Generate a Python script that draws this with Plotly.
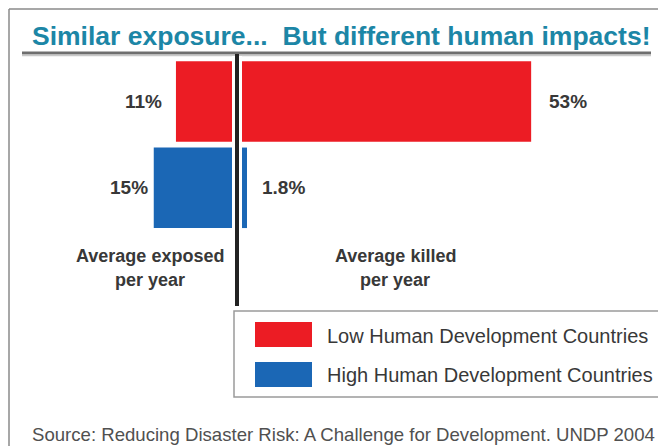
import plotly.graph_objects as go

# ---------------- data ----------------
groups = ["Low Human Development Countries", "High Human Development Countries"]
group_keys = ["Low", "High"]
exposed_pct = [11, 15]        # average exposed per year (%)
killed_pct = [53, 1.8]        # average killed per year (%)
exposed_labels = ["11%", "15%"]
killed_labels = ["53%", "1.8%"]
side_labels = [["Average exposed", "per year"], ["Average killed", "per year"]]
title_text = "Similar exposure...  But different human impacts!"
source_text = "Source: Reducing Disaster Risk: A Challenge for Development. UNDP 2004"

# ---------------- styles ----------------
colors = ["#ec1c24", "#1b67b5"]
W, H = 658, 446
ZERO_PX = 237.0
PX_PER_PCT = 5.55
ROW0_PX, ROW_STEP_PX = 101.6, 86.2
BAR_FRAC = 0.934
exp_gap = [12, 4]
kil_gap = [16, 13]
ARIAL = "Liberation Sans, Arial, sans-serif"
TXT = "#383838"


def px(x):
    return x / W


def py(y):
    return 1 - y / H


fig = go.Figure()
for i, key in enumerate(group_keys):
    fig.add_trace(go.Bar(
        y=[key, key],
        x=[exposed_pct[i], killed_pct[i]],
        base=[-exposed_pct[i], 0],
        orientation="h",
        width=BAR_FRAC,
        marker=dict(color=colors[i], line=dict(width=0)),
        name=groups[i],
        showlegend=False,
        hoverinfo="skip",
    ))

annotations = []
for i, key in enumerate(group_keys):
    annotations.append(dict(x=-exposed_pct[i], y=key, xref="x", yref="y",
                            text=exposed_labels[i], showarrow=False,
                            xanchor="right", yanchor="middle", xshift=-exp_gap[i],
                            font=dict(family=ARIAL, size=19, color=TXT, weight="bold")))
    annotations.append(dict(x=killed_pct[i], y=key, xref="x", yref="y",
                            text=killed_labels[i], showarrow=False,
                            xanchor="left", yanchor="middle", xshift=kil_gap[i],
                            font=dict(family=ARIAL, size=19, color=TXT, weight="bold")))

# side labels under the bars
side_x = [150, 395]
line_y = [256, 280]
for j, lines in enumerate(side_labels):
    for k, t in enumerate(lines):
        annotations.append(dict(x=px(side_x[j]), y=py(line_y[k]), xref="paper", yref="paper",
                                text=t, showarrow=False, xanchor="center", yanchor="middle",
                                font=dict(family=ARIAL, size=18, color=TXT, weight="bold")))

# title
annotations.append(dict(x=px(30), y=py(36), xref="paper", yref="paper", text=title_text,
                        showarrow=False, xanchor="left", yanchor="middle",
                        font=dict(family=ARIAL, size=26.5, color="#1c86a6", weight="bold")))
# source
annotations.append(dict(x=px(30), y=py(434), xref="paper", yref="paper", text=source_text,
                        showarrow=False, xanchor="left", yanchor="middle",
                        font=dict(family=ARIAL, size=18.6, color="#505050")))

shapes = []
# outer frame
shapes.append(dict(type="line", xref="paper", yref="paper", x0=px(9), x1=px(9), y0=py(9), y1=0,
                   line=dict(color="#8a8a8a", width=1.5)))
shapes.append(dict(type="line", xref="paper", yref="paper", x0=px(9), x1=1, y0=py(9), y1=py(9),
                   line=dict(color="#8a8a8a", width=1.5)))
# title underline
shapes.append(dict(type="line", xref="paper", yref="paper", x0=px(22), x1=px(651), y0=py(53), y1=py(53),
                   line=dict(color="#6e6e6e", width=3)))
shapes.append(dict(type="line", xref="paper", yref="paper", x0=px(22), x1=px(651), y0=py(55.5), y1=py(55.5),
                   line=dict(color="#c8c8c8", width=1.5)))
# zero axis with white gap
shapes.append(dict(type="line", xref="x", yref="paper", x0=0, x1=0, y0=py(56), y1=py(306),
                   line=dict(color="white", width=10), layer="above"))
shapes.append(dict(type="line", xref="x", yref="paper", x0=0, x1=0, y0=py(54), y1=py(306),
                   line=dict(color="#222222", width=4), layer="above"))
# legend box
shapes.append(dict(type="rect", xref="paper", yref="paper", x0=px(234), x1=px(662), y0=py(397), y1=py(311),
                   line=dict(color="#9a9a9a", width=1.5), fillcolor="white"))
sw_y = [(322, 347), (362, 387)]
txt_y = [336, 375]
for i in range(2):
    shapes.append(dict(type="rect", xref="paper", yref="paper", x0=px(255), x1=px(312),
                       y0=py(sw_y[i][1]), y1=py(sw_y[i][0]),
                       line=dict(width=0), fillcolor=colors[i]))
    annotations.append(dict(x=px(325), y=py(txt_y[i]), xref="paper", yref="paper", text=groups[i],
                            showarrow=False, xanchor="left", yanchor="middle",
                            font=dict(family=ARIAL, size=20, color=TXT)))

xmin = -ZERO_PX / PX_PER_PCT
xmax = (W - ZERO_PX) / PX_PER_PCT
ytop = -ROW0_PX / ROW_STEP_PX
ybot = ytop + H / ROW_STEP_PX

fig.update_layout(
    width=W, height=H,
    margin=dict(l=0, r=0, t=0, b=0),
    paper_bgcolor="white", plot_bgcolor="white",
    barmode="overlay",
    showlegend=False,
    xaxis=dict(range=[xmin, xmax], visible=False, fixedrange=True),
    yaxis=dict(type="category", categoryorder="array", categoryarray=group_keys,
               range=[ybot, ytop], visible=False, fixedrange=True),
    annotations=annotations,
    shapes=shapes,
)

fig.write_html("out.html", config={"displayModeBar": False},
               post_script="document.body.style.margin='0';document.body.style.overflow='hidden';")
